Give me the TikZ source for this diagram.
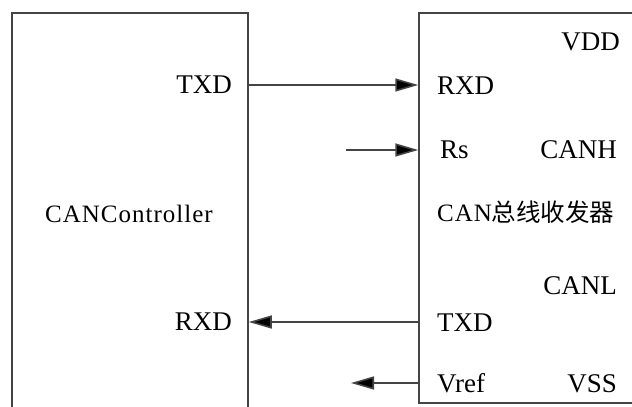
\documentclass[tikz,border=0pt]{standalone}
\usepackage{fontspec}
\setmainfont{Liberation Serif}
\newfontfamily\spaced[LetterSpace=4.0]{Liberation Serif}
\newfontfamily\cjk{Noto Sans CJK SC}
\usepackage{tikz}
\usetikzlibrary{positioning,arrows.meta,calc}
\definecolor{wire}{HTML}{444444}

\begin{document}
\begin{tikzpicture}[
    x=1pt, y=1pt,
    box/.style={draw=wire, line width=1.5pt, rectangle, inner sep=0pt},
    pin/.style={inner sep=0pt, font=\fontsize{27}{27}\selectfont},
    title/.style={inner sep=0pt, font=\spaced\fontsize{25}{25}\selectfont},
    arr/.style={-{Triangle[length=23pt, width=13pt, fill=black]}, draw=wire, line width=1.6pt}
]
    \useasboundingbox (0,0) rectangle (632,407);
    \clip (0,0) rectangle (632,407);
    \fill[white] (0,0) rectangle (632,407);

    % the two chips
    \node[box, minimum width=236pt, minimum height=414pt] (ctrl) at (130,187) {};
    \node[box, minimum width=241pt, minimum height=390pt] (xcvr) at (539.5,199) {};

    % controller pins
    \node[pin, anchor=base east] (ctxd) at (232,313) {TXD};
    \node[pin, anchor=base east] (crxd) at (232,76) {RXD};
    \node[title, anchor=base west] (cname) at (45,184) {CANController};

    % transceiver pins
    \node[pin, anchor=base east] (vdd) at (620,356) {VDD};
    \node[pin, anchor=base west] (trxd) at (437,312) {RXD};
    \node[pin, anchor=base west] (rs) at (440,248) {Rs};
    \node[pin, anchor=base east] (canh) at (617,248) {CANH};
    \node[title, anchor=base west] (tname) at (437,185) {CAN{\cjk\fontsize{24.5}{24.5}\selectfont 总线收发器}};
    \node[pin, anchor=base east] (canl) at (617,112) {CANL};
    \node[pin, anchor=base west] (ttxd) at (437,75) {TXD};
    \node[pin, anchor=base west] (vref) at (437,14) {Vref};
    \node[pin, anchor=base east] (vss) at (617,14) {VSS};

    \coordinate (rsin) at (346,257);
    \coordinate (vrefout) at (351,24);

    \draw[arr] (ctrl.east |- 0,322) -- (xcvr.west |- 0,322);
    \draw[arr] (rsin) -- (rsin -| xcvr.west);
    \draw[arr] (xcvr.west |- 0,85) -- (ctrl.east |- 0,85);
    \draw[arr] (vrefout -| xcvr.west) -- (vrefout);
\end{tikzpicture}
\end{document}
